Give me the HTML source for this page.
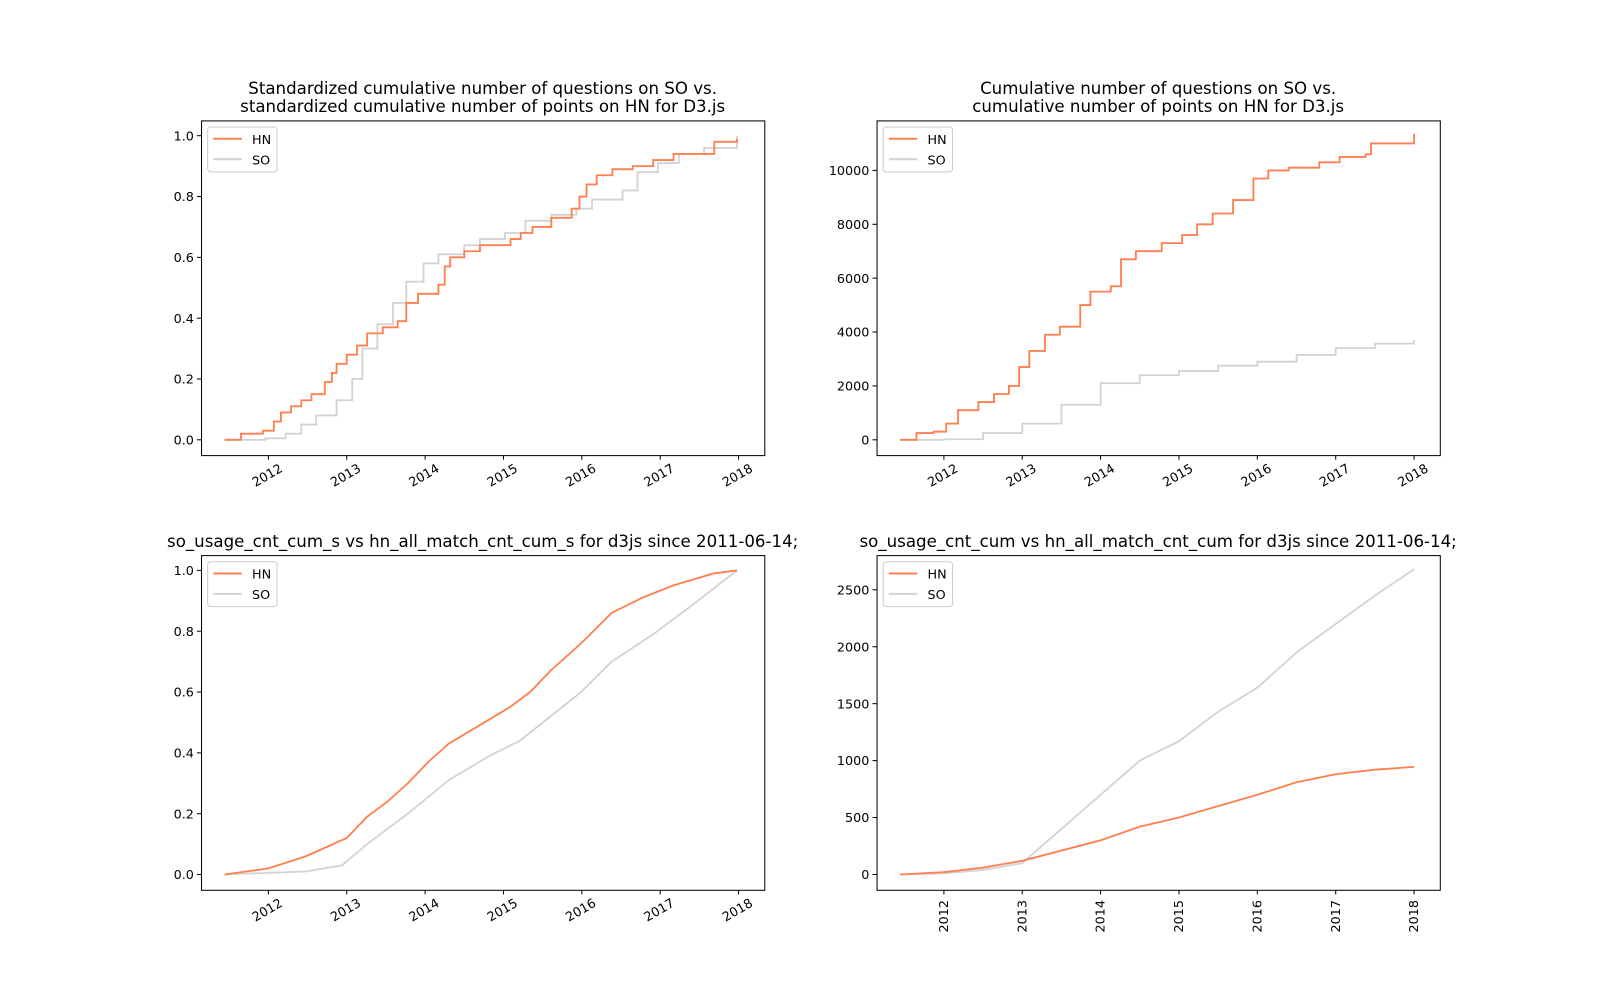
<!DOCTYPE html>
<html><head><meta charset="utf-8"><style>
body{margin:0;background:#fff;}
svg{display:block;font-family:"DejaVu Sans","Liberation Sans",sans-serif;}
</style></head><body>
<svg width="1600" height="1000" viewBox="0 0 1600 1000"><g id="fig" transform="scale(1.0204)"></g></svg>
<script>
// ---- Data (x = fractional year) ----
const p1HnX=[2011.44,2011.65,2011.93,2012.07,2012.16,2012.29,2012.42,2012.55,2012.72,2012.81,2012.87,2013.0,2013.13,2013.26,2013.46,2013.65,2013.76,2013.91,2014.17,2014.25,2014.32,2014.5,2014.7,2015.09,2015.22,2015.37,2015.61,2015.87,2015.97,2016.06,2016.19,2016.39,2016.65,2016.91,2017.17,2017.69,2017.98];
const p1HnY=[0,0.02,0.03,0.06,0.09,0.11,0.13,0.15,0.19,0.22,0.25,0.28,0.31,0.35,0.37,0.39,0.45,0.48,0.51,0.57,0.6,0.62,0.64,0.66,0.68,0.7,0.73,0.76,0.8,0.84,0.87,0.89,0.9,0.92,0.94,0.98,0.99];
const p1SoX=[2011.44,2011.96,2012.22,2012.42,2012.61,2012.77,2012.87,2013.07,2013.2,2013.39,2013.59,2013.76,2013.98,2014.17,2014.5,2014.7,2015.02,2015.28,2015.61,2015.93,2016.13,2016.52,2016.71,2016.97,2017.24,2017.56,2017.98];
const p1SoY=[0,0.005,0.02,0.05,0.08,0.08,0.13,0.2,0.3,0.38,0.45,0.52,0.58,0.61,0.64,0.66,0.68,0.72,0.74,0.76,0.79,0.82,0.88,0.91,0.94,0.96,1.0];
const p2HnX=[2011.44,2011.65,2011.87,2012.03,2012.18,2012.44,2012.64,2012.83,2012.96,2013.09,2013.29,2013.48,2013.74,2013.87,2014.13,2014.26,2014.45,2014.78,2015.04,2015.23,2015.43,2015.69,2015.95,2016.14,2016.4,2016.79,2017.05,2017.38,2017.45,2018.0];
const p2HnY=[0,250,300,600,1100,1400,1700,2000,2700,3300,3900,4200,5000,5500,5700,6700,7000,7300,7600,8000,8400,8900,9700,10000,10100,10300,10500,10600,11000,11350];
const p2SoX=[2011.44,2012,2012.5,2013,2013.5,2014,2014.5,2015,2015.5,2016,2016.5,2017,2017.5,2018];
const p2SoY=[0,20,250,600,1300,2100,2400,2550,2750,2900,3150,3400,3570,3700];
const p3HnX=[2011.44,2012.0,2012.48,2013.0,2013.26,2013.52,2013.78,2014.04,2014.3,2014.56,2014.82,2015.08,2015.34,2015.6,2015.99,2016.38,2016.77,2017.16,2017.68,2017.98];
const p3HnY=[0,0.02,0.06,0.12,0.19,0.24,0.3,0.37,0.43,0.47,0.51,0.55,0.6,0.67,0.76,0.86,0.91,0.95,0.99,1.0];
const p3SoX=[2011.44,2012.48,2012.94,2013.26,2013.78,2014.3,2014.82,2015.21,2015.6,2015.99,2016.38,2016.91,2017.43,2017.98];
const p3SoY=[0,0.01,0.03,0.1,0.2,0.31,0.39,0.44,0.52,0.6,0.7,0.79,0.89,1.0];
const p4X=[2011.44,2012,2012.5,2013,2013.5,2014,2014.5,2015,2015.5,2016,2016.5,2017,2017.5,2018];
const p4HnY=[0,20,60,120,210,300,420,500,600,700,810,880,920,945];
const p4SoY=[0,10,40,100,400,700,1000,1170,1430,1640,1950,2200,2450,2680];
const yearTicks=[2012,2013,2014,2015,2016,2017,2018];
const t1=[0,0.2,0.4,0.6,0.8,1.0], t1L=["0.0","0.2","0.4","0.6","0.8","1.0"];
const t2=[0,2000,4000,6000,8000,10000];
const t4=[0,500,1000,1500,2000,2500];

const NS="http://www.w3.org/2000/svg";
const fig=document.getElementById('fig');
function mk(tag,attrs,parent){const e=document.createElementNS(NS,tag);for(const k in attrs)e.setAttribute(k,attrs[k]);(parent||fig).appendChild(e);return e;}

function panel(o){
  const g=mk('g',{});
  
  
  const L=o.x0,R=o.x0+552,T=o.y0,B=o.y0+328;
  const xs=v=>L+23+(v-2011.44)*76.8;
  const ys=v=>o.yZero-(v-o.yMin)*o.yPx;
  o.title.forEach((t,i)=>{const e=mk('text',{x:(L+R)/2,y:o.titleY+i*18,'text-anchor':'middle','font-size':16.3,fill:'#000'},g);e.textContent=t;
    });
  function path(X,Y,step){let d='';for(let i=0;i<X.length;i++){const px=xs(X[i]),py=ys(Y[i]);
    if(i===0)d+='M'+px+','+py;else if(step)d+='H'+px+'V'+py;else d+='L'+px+','+py;}return d;}
  const so=mk('path',{d:path(o.soX,o.soY,o.step),fill:'none',stroke:'#d3d3d3','stroke-width':1.8},g);
  
  const hn=mk('path',{d:path(o.hnX,o.hnY,o.step),fill:'none',stroke:'#ff7f50','stroke-width':1.8},g);
  
  const fr=mk('rect',{x:L+0.5,y:T+0.5,width:552,height:328,fill:'none',stroke:'#000','stroke-width':1},g);
  
  yearTicks.forEach(y=>{const px=xs(y);mk('line',{x1:px,x2:px,y1:B+0.5,y2:B+4.5,stroke:'#000'},g);
    let e;
    if(o.rot90){const tx=px+4,ty=B+10;
      e=mk('text',{x:tx,y:ty,'font-size':12.5,'text-anchor':'end',transform:`rotate(-90 ${tx} ${ty})`},g);}
    else{const tx=px-1,ty=B+24;
      e=mk('text',{x:tx,y:ty,'font-size':12.5,'text-anchor':'middle',transform:`rotate(-30 ${tx} ${ty-4})`},g);}
    e.textContent=y;});
  o.ticks.forEach((v,i)=>{const py=ys(v);mk('line',{x1:L-4,x2:L+0.5,y1:py,y2:py,stroke:'#000'},g);
    const e=mk('text',{x:L-7,y:py+4.5,'font-size':12.5,'text-anchor':'end'},g);e.textContent=o.labels?o.labels[i]:v;
    });
  const lg=mk('g',{},g);
  mk('rect',{x:L+6.5,y:T+6.5,width:68,height:44,rx:3,fill:'#fff',stroke:'#ccc'},lg);
  [['HN','#ff7f50'],['SO','#d3d3d3']].forEach((s,i)=>{const yy=T+18+i*20;
    mk('line',{x1:L+12,x2:L+40,y1:yy,y2:yy,stroke:s[1],'stroke-width':2},lg);
    const e=mk('text',{x:L+50,y:yy+5,'font-size':12.5},lg);e.textContent=s[0];
    });
}
panel({name:'panel-std-points',x0:197,y0:118,yZero:431,yMin:0,yPx:298,ticks:t1,labels:t1L,step:true,
  title:['Standardized cumulative number of questions on SO vs.','standardized cumulative number of points on HN for D3.js'],titleY:92,
  hnX:p1HnX,hnY:p1HnY,soX:p1SoX,soY:p1SoY});
panel({name:'panel-raw-points',x0:859,y0:118,yZero:431,yMin:0,yPx:0.0264,ticks:t2,step:true,
  title:['Cumulative number of questions on SO vs.','cumulative number of points on HN for D3.js'],titleY:92,
  hnX:p2HnX,hnY:p2HnY,soX:p2SoX,soY:p2SoY});
panel({name:'panel-std-matches',x0:197,y0:544,yZero:857,yMin:0,yPx:298,ticks:t1,labels:t1L,step:false,
  title:['so_usage_cnt_cum_s vs hn_all_match_cnt_cum_s for d3js since 2011-06-14;'],titleY:536,
  hnX:p3HnX,hnY:p3HnY,soX:p3SoX,soY:p3SoY});
panel({name:'panel-raw-matches',x0:859,y0:544,yZero:857,yMin:0,yPx:0.1116,ticks:t4,step:false,rot90:true,
  title:['so_usage_cnt_cum vs hn_all_match_cnt_cum for d3js since 2011-06-14;'],titleY:536,
  hnX:p4X,hnY:p4HnY,soX:p4X,soY:p4SoY});
</script>
</body></html>
